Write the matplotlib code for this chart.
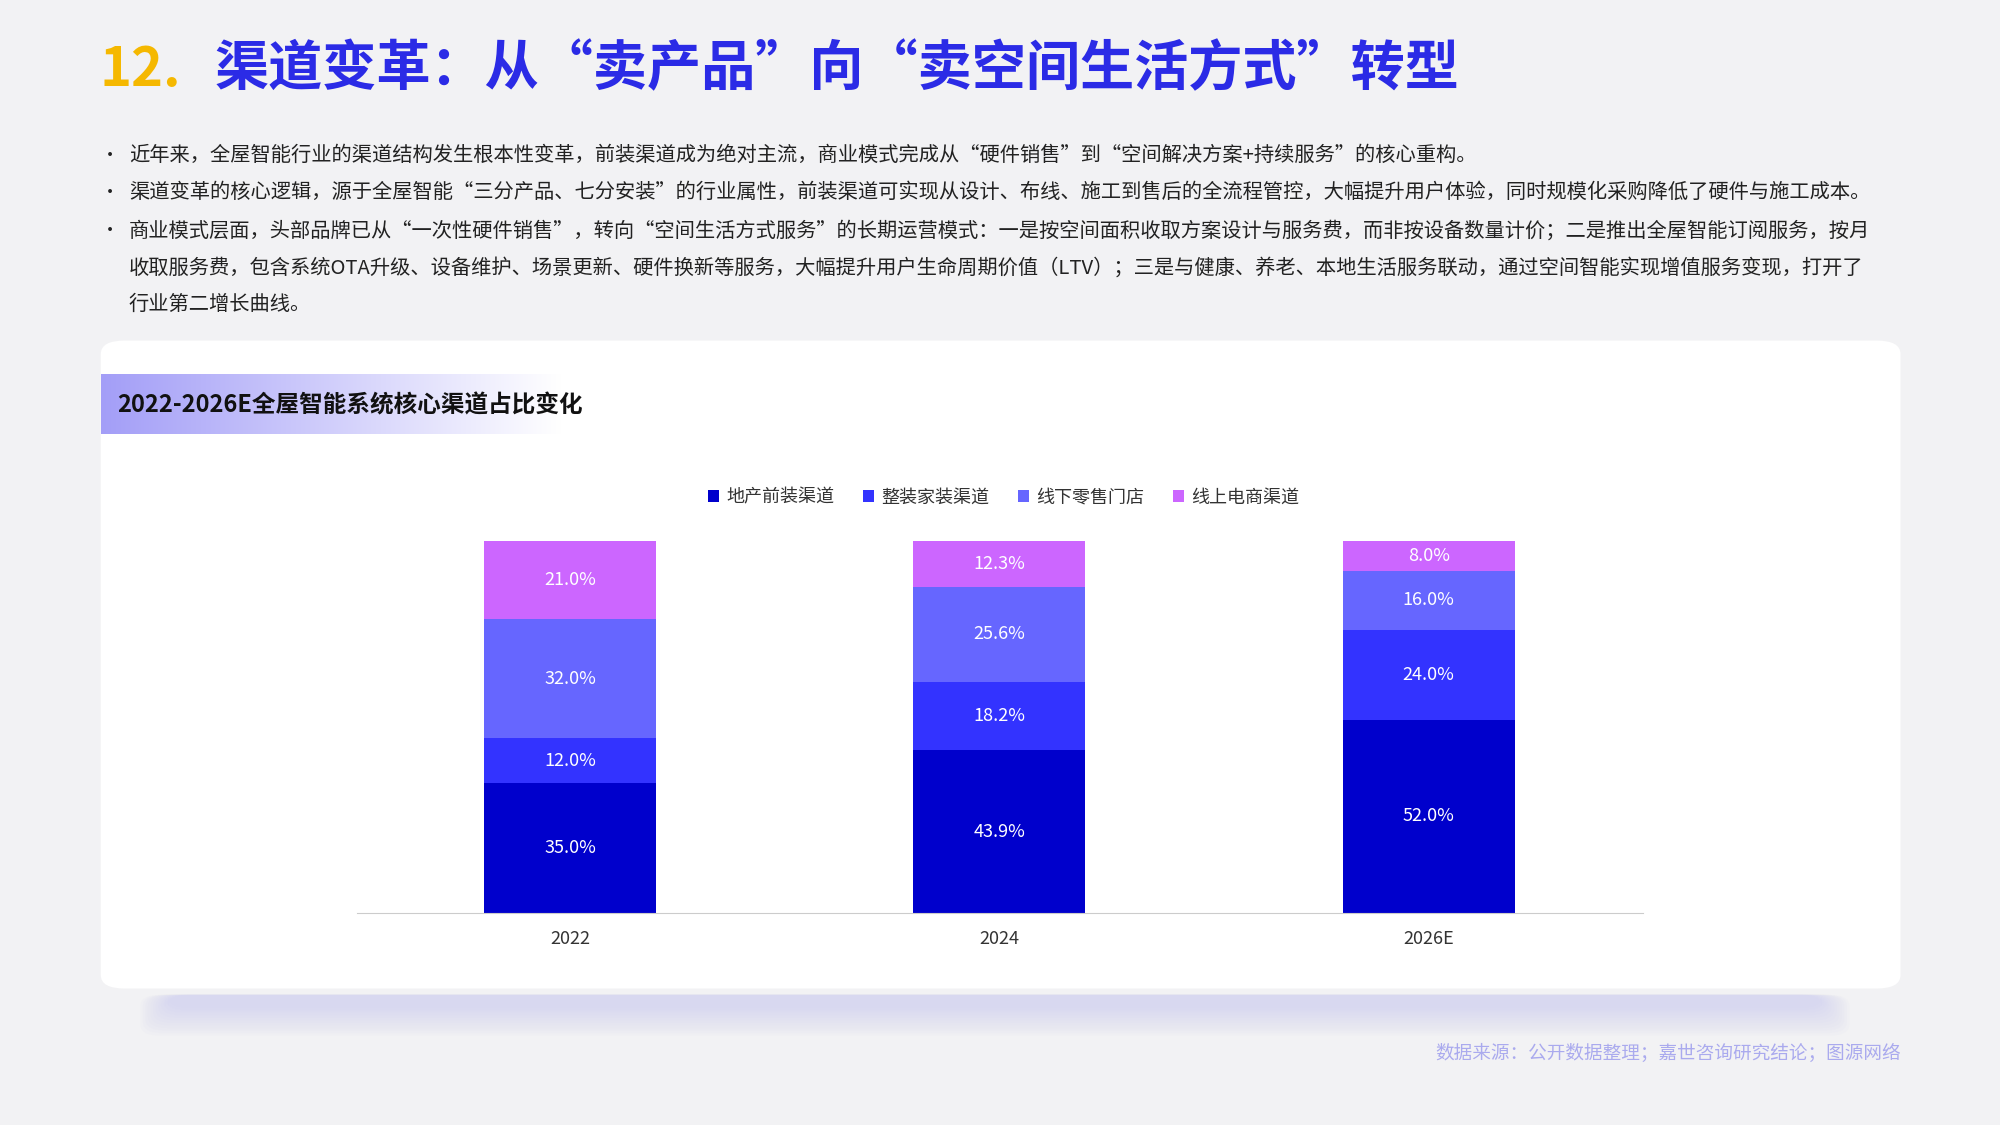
import matplotlib
matplotlib.use("Agg")
import matplotlib.pyplot as plt
import numpy as np
from matplotlib.patches import FancyBboxPatch

plt.rcParams['font.family'] = ['Noto Sans CJK SC', 'DejaVu Sans']

years = ["2022", "2024", "2026E"]
series = ["地产前装渠道", "整装家装渠道", "线下零售门店", "线上电商渠道"]
values = [
    [35.0, 43.9, 52.0],
    [12.0, 18.2, 24.0],
    [32.0, 25.6, 16.0],
    [21.0, 12.3, 8.0],
]
colors = ["#0000CC", "#3333FF", "#6666FF", "#CC66FF"]

W, H = 1568, 882
def fx(x): return x / W
def fy(y): return 1 - y / H

fig = plt.figure(figsize=(20, 11.25), dpi=100)
fig.patch.set_facecolor("#F2F2F4")

# title
fig.text(fx(78), fy(55), "12.", color="#F5B800", fontsize=39, fontweight="bold", va="center")
fig.text(fx(168), fy(55), "渠道变革：从“卖产品”向“卖空间生活方式”转型", color="#2B2BE6",
         fontsize=39, fontweight="bold", va="center")

bullets = [
    (122, "•", "近年来，全屋智能行业的渠道结构发生根本性变革，前装渠道成为绝对主流，商业模式完成从“硬件销售”到“空间解决方案+持续服务”的核心重构。"),
    (151, "•", "渠道变革的核心逻辑，源于全屋智能“三分产品、七分安装”的行业属性，前装渠道可实现从设计、布线、施工到售后的全流程管控，大幅提升用户体验，同时规模化采购降低了硬件与施工成本。"),
    (181, "•", "商业模式层面，头部品牌已从“一次性硬件销售”，转向“空间生活方式服务”的长期运营模式：一是按空间面积收取方案设计与服务费，而非按设备数量计价；二是推出全屋智能订阅服务，按月"),
    (210, "", "收取服务费，包含系统OTA升级、设备维护、场景更新、硬件换新等服务，大幅提升用户生命周期价值（LTV）；三是与健康、养老、本地生活服务联动，通过空间智能实现增值服务变现，打开了"),
    (239, "", "行业第二增长曲线。"),
]
for y, b, t in bullets:
    if b:
        fig.text(fx(79), fy(y), b, fontsize=13, color="#222222", va="center")
    fig.text(fx(101), fy(y), t, fontsize=14.6, color="#222222", va="center")

# card shadow
for i in range(12):
    fig.patches.append(FancyBboxPatch((fx(110 + i * 2), fy(812 - i * 2)), fx(1340 - i * 4), fy(780) - fy(812 - i * 2),
                                      boxstyle="round,pad=0,rounding_size=0.01", transform=fig.transFigure,
                                      facecolor="#C8C8F0", edgecolor="none", alpha=0.06, zorder=0))
# card
fig.patches.append(FancyBboxPatch((fx(79), fy(775)), fx(1490 - 79), fy(267) - fy(775),
                                  boxstyle="round,pad=0,rounding_size=0.012", transform=fig.transFigure,
                                  facecolor="white", edgecolor="none", zorder=1))

# subtitle gradient banner
bax = fig.add_axes([fx(79), fy(340), fx(440 - 79), fy(293) - fy(340)])
bax.set_zorder(2)
grad = np.linspace(0, 1, 256).reshape(1, -1)
c0 = np.array([0.64, 0.62, 0.97]); c1 = np.array([1, 1, 1])
img = (c0[None, None, :] * (1 - grad[..., None]) + c1[None, None, :] * grad[..., None])
bax.imshow(img, aspect="auto", extent=[0, 1, 0, 1])
bax.axis("off")
fig.text(fx(92), fy(318), "2022-2026E全屋智能系统核心渠道占比变化", fontsize=17, fontweight="bold",
         color="#111111", va="center", zorder=5)

# chart
ax = fig.add_axes([fx(280), fy(716), fx(1288 - 280), fy(424) - fy(716)])
x = np.arange(len(years))
bottom = np.zeros(len(years))
for s, vals, c in zip(series, values, colors):
    vals = np.array(vals)
    ax.bar(x, vals, 0.401, bottom=bottom, color=c, label=s, zorder=2)
    for xi, b, v in zip(x, bottom, vals):
        ax.text(xi, b + v / 2, f"{v:.1f}%", ha="center", va="center", color="white", fontsize=13)
    bottom += vals
ax.set_xlim(-0.496, 2.499)
ax.set_ylim(0, 100)
ax.set_xticks(x)
ax.set_xticklabels(years, fontsize=13, color="#333333")
ax.tick_params(axis="x", length=0, pad=12)
ax.set_yticks([])
for sp in ["top", "right", "left"]:
    ax.spines[sp].set_visible(False)
ax.spines["bottom"].set_color("#CCCCCC")
ax.patch.set_alpha(0)
ax.set_zorder(3)

fig.legend(loc="center", bbox_to_anchor=(fx(787), fy(390)), ncol=4, frameon=False, fontsize=13,
           handlelength=0.6, handleheight=0.6, columnspacing=1.6, handletextpad=0.4,
           labelcolor="#333333")

fig.text(fx(1490), fy(826), "数据来源：公开数据整理；嘉世咨询研究结论；图源网络", ha="right", va="center",
         fontsize=13.4, color="#AAAAEE")

fig.savefig("out.png", dpi=100, facecolor=fig.get_facecolor())
